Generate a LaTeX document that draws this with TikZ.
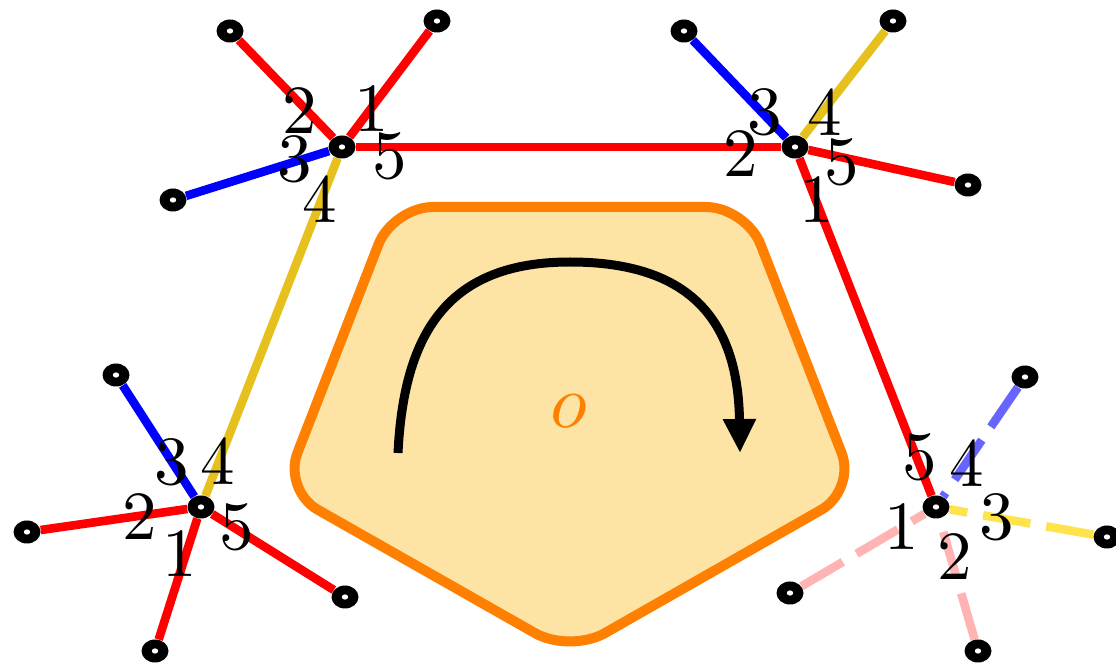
\documentclass[tikz,border=0pt]{standalone}
\usetikzlibrary{shapes.geometric,arrows.meta,backgrounds}
\definecolor{ylw}{RGB}{230,193,30}
\definecolor{ylwl}{RGB}{255,227,77}
\definecolor{bluel}{RGB}{102,102,255}
\definecolor{pinkl}{RGB}{255,179,179}
\definecolor{pentfill}{RGB}{253,228,165}
\definecolor{pentdraw}{RGB}{255,128,0}
\begin{document}
\begin{tikzpicture}[x=0.5pt,y=-0.5pt,
  vtx/.style={ellipse,fill=black,inner sep=0pt,minimum width=13.5pt,minimum height=11.5pt,
    path picture={\fill[white] (path picture bounding box.center) ellipse (1.6pt and 1.3pt);}},
  lbl/.style={font=\normalsize,scale=3.45,inner sep=0pt},
  edgeline/.style={line width=4.3pt},
  dedge/.style={line width=4.3pt,dash pattern=on 24pt off 8pt},
  pent/.style={draw=pentdraw,fill=pentfill,line width=5pt,rounded corners=20pt},
  rot/.style={line width=4.5pt,-{Triangle[length=17pt,width=15.5pt]}}]
\useasboundingbox (0,0) rectangle (1116,663);

% pentagon and rotation arrow
\draw[pent] (393,207) -- (746,207) -- (856,490) -- (570,653) -- (283,490) -- cycle;
\draw[rot] (398,453) .. controls (404,330) and (450,262) .. (570,262)
                     .. controls (690,262) and (738,320) .. (740,453);
\node[lbl,scale=1.1,text=pentdraw] (O) at (569,411) {$o$};

% main vertices
\node[vtx] (A) at (342,147) {};
\node[vtx] (B) at (795,147) {};
\node[vtx] (C) at (201,507) {};
\node[vtx] (D) at (936,507) {};
% leaves
\node[vtx] (a1) at (230,31) {};
\node[vtx] (a2) at (437,21) {};
\node[vtx] (a3) at (173,200) {};
\node[vtx] (b1) at (684,31) {};
\node[vtx] (b2) at (893,21) {};
\node[vtx] (b3) at (968,185) {};
\node[vtx] (c1) at (116,375) {};
\node[vtx] (c2) at (27,532) {};
\node[vtx] (c3) at (345,597) {};
\node[vtx] (c4) at (155,651) {};
\node[vtx] (d1) at (1025,377) {};
\node[vtx] (d2) at (1107,537) {};
\node[vtx] (d3) at (790,593) {};
\node[vtx] (d4) at (978,651) {};

\begin{pgfonlayer}{background}
\draw[edgeline,red] (A) -- (B);
\draw[edgeline,red] (B) -- (D);
\draw[edgeline,ylw] (A) -- (C);
\draw[edgeline,red] (A) -- (a1);
\draw[edgeline,red] (A) -- (a2);
\draw[edgeline,blue] (A) -- (a3);
\draw[edgeline,blue] (B) -- (b1);
\draw[edgeline,ylw] (B) -- (b2);
\draw[edgeline,red] (B) -- (b3);
\draw[edgeline,blue] (C) -- (c1);
\draw[edgeline,red] (C) -- (c2);
\draw[edgeline,red] (C) -- (c3);
\draw[edgeline,red] (C) -- (c4);
\draw[dedge,bluel] (d1) -- (D);
\draw[dedge,ylwl] (d2) -- (D);
\draw[dedge,pinkl] (d3) -- (D);
\draw[dedge,pinkl] (d4) -- (D);
\end{pgfonlayer}

% labels
\node[lbl] (A1) at (372,109) {1};
\node[lbl] (A2) at (300,111) {2};
\node[lbl] (A3) at (295,159) {3};
\node[lbl] (A4) at (320,199) {4};
\node[lbl] (A5) at (390,156) {5};

\node[lbl] (B1) at (817,200) {1};
\node[lbl] (B2) at (741,154) {2};
\node[lbl] (B3) at (765,112) {3};
\node[lbl] (B4) at (825,112) {4};
\node[lbl] (B5) at (842,162) {5};

\node[lbl] (C1) at (180,554) {1};
\node[lbl] (C2) at (140,517) {2};
\node[lbl] (C3) at (172,462) {3};
\node[lbl] (C4) at (218,461) {4};
\node[lbl] (C5) at (237,527) {5};

\node[lbl] (D1) at (902,527) {1};
\node[lbl] (D2) at (955,557) {2};
\node[lbl] (D3) at (997,517) {3};
\node[lbl] (D4) at (967,463) {4};
\node[lbl] (D5) at (920,457) {5};
\end{tikzpicture}
\end{document}
